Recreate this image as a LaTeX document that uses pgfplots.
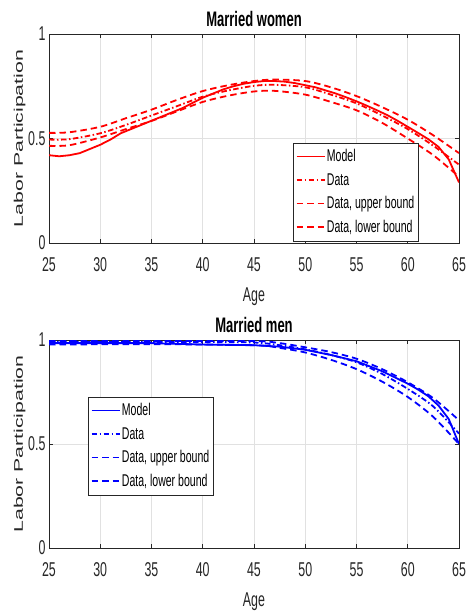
\documentclass[border=0pt]{standalone}
\usepackage{graphicx}
\usepackage{pgfplots}
\pgfplotsset{compat=1.18}
\usepackage{fontspec}
\setmainfont{Liberation Sans}[FakeStretch=0.62]
\newfontfamily\ylabfont{Liberation Sans}[FakeStretch=1.7]
\newfontfamily\legfont{Liberation Sans}
\newcommand{\lgx}[1]{\scalebox{0.62}[1]{#1}}
\definecolor{axgray}{RGB}{38,38,38}
\definecolor{gridgray}{RGB}{225,225,225}
\tikzset{
  mdl/.style={line width=1.8bp, solid},
  dat/.style={line width=1.8bp, dash pattern=on 5.5bp off 2.5bp on 1.5bp off 2.5bp},
  bnd/.style={line width=1.8bp, dash pattern=on 6.5bp off 4bp},
}
\pgfplotsset{
  limg/.style 2 args={legend image code/.code={\draw[draw=#1, #2] (0bp,0bp) -- (28bp,0bp);}},
  mlstyle/.style={
    scale only axis, width=410bp,
    xmin=25, xmax=65, ymin=0, ymax=1,
    xtick={25,30,...,65}, ytick={0,0.5,1},
    /pgf/number format/assume math mode=true,
    tick align=inside, major tick length=4bp,
    axis line style={axgray, line width=0.8bp},
    tick style={axgray, line width=0.8bp},
    grid=major, major grid style={gridgray, line width=0.8bp},
    ticklabel style={font=\fontsize{20bp}{22bp}\selectfont, text=axgray},
    xticklabel style={yshift=-11bp},
    yticklabel style={xshift=0bp},
    title style={font=\fontsize{21bp}{23bp}\selectfont\bfseries, yshift=-2bp},
    xlabel={Age},
    xlabel style={font=\fontsize{20bp}{22bp}\selectfont, text=axgray, yshift=-9bp},
    ylabel={Labor Participation},
    ylabel style={font=\fontsize{12.5bp}{14bp}\selectfont\ylabfont, text=axgray, yshift=-4bp},
    legend cell align=left,
    legend style={draw=axgray, fill=white,
      font=\fontsize{17bp}{19bp}\selectfont\legfont,
      inner xsep=2.5bp, inner ysep=5bp, row sep=7bp,
      nodes={inner sep=1.5bp}},
  },
}
\begin{document}
\begin{tikzpicture}
\useasboundingbox (0,0) rectangle (468bp,-614bp);
% ---------------- Married women ----------------
\begin{axis}[mlstyle, height=209bp, at={(49bp,-243bp)}, anchor=south west,
  title={Married women},
  legend style={at={(0.595,0.01)}, anchor=south west}]
\addplot[red, mdl, limg={red}{mdl}] coordinates {
(25,0.420) (26,0.415) (27,0.420) (28,0.430) (29,0.450) (30,0.470) (31,0.495)
(32,0.525) (33,0.545) (34,0.565) (35,0.585) (36,0.605) (37,0.625) (38,0.645)
(39,0.670) (40,0.695) (41,0.715) (42,0.735) (43,0.750) (44,0.762) (45,0.770)
(46,0.775) (47,0.775) (48,0.772) (49,0.765) (50,0.755) (51,0.745) (52,0.730)
(53,0.715) (54,0.697) (55,0.678) (56,0.657) (57,0.635) (58,0.612) (59,0.585)
(60,0.556) (61,0.527) (62,0.497) (63,0.460) (64,0.400) (65,0.290)};
\addlegendentry{\lgx{Model}}
\addplot[red, dat, smooth, tension=0.5, limg={red}{dat}] coordinates {
(25,0.495) (27,0.497) (30,0.525) (32.5,0.565) (35,0.610) (37.5,0.655) (40,0.700)
(42.5,0.730) (45,0.752) (47,0.757) (50,0.745) (52.5,0.710) (55,0.668)
(57.5,0.610) (60,0.545) (62.5,0.465) (65,0.375)};
\addlegendentry{\lgx{Data}}
\addplot[red, bnd, smooth, tension=0.5, limg={red}{bnd}] coordinates {
(25,0.527) (27,0.530) (30,0.556) (32.5,0.597) (35,0.638) (37.5,0.685) (40,0.727)
(42.5,0.755) (45,0.775) (47,0.782) (50,0.775) (52.5,0.745) (55,0.703)
(57.5,0.650) (60,0.590) (62.5,0.515) (65,0.430)};
\addlegendentry{\lgx{Data, upper bound}}
\addplot[red, bnd, smooth, tension=0.5, limg={red}{bnd}] coordinates {
(25,0.465) (27,0.468) (30,0.505) (32.5,0.545) (35,0.584) (37.5,0.630) (40,0.675)
(42.5,0.705) (45,0.725) (47,0.728) (50,0.710) (52.5,0.675) (55,0.635)
(57.5,0.575) (60,0.500) (62.5,0.420) (65,0.317)};
\addlegendentry{\lgx{Data, lower bound}}
\end{axis}
% ---------------- Married men ----------------
\begin{axis}[mlstyle, height=208bp, at={(49bp,-548bp)}, anchor=south west,
  title={Married men},
  legend style={at={(0.095,0.255)}, anchor=south west}]
\addplot[blue, mdl, limg={blue}{mdl}] coordinates {
(25,0.985) (30,0.985) (35,0.985) (40,0.978) (45,0.975) (47.5,0.968) (50,0.953)
(52.5,0.928) (55,0.898) (57.5,0.850) (60,0.790) (61,0.762) (62,0.730) (63,0.685)
(64,0.620) (65,0.500)};
\addlegendentry{\lgx{Model}}
\addplot[blue, dat, smooth, tension=0.5, limg={blue}{dat}] coordinates {
(25,0.990) (30,0.990) (35,0.990) (40,0.990) (45,0.988) (47.5,0.975) (50,0.955)
(52.5,0.928) (55,0.893) (57.5,0.837) (60,0.765) (62.5,0.680) (65,0.550)};
\addlegendentry{\lgx{Data}}
\addplot[blue, bnd, smooth, tension=0.5, limg={blue}{bnd}] coordinates {
(25,0.995) (35,0.995) (45,0.995) (47.5,0.985) (50,0.965) (52.5,0.942) (55,0.910)
(57.5,0.860) (60,0.797) (62.5,0.720) (65,0.614)};
\addlegendentry{\lgx{Data, upper bound}}
\addplot[blue, bnd, smooth, tension=0.5, limg={blue}{bnd}] coordinates {
(25,0.978) (35,0.980) (45,0.975) (47.5,0.962) (50,0.940) (52.5,0.905) (55,0.860)
(57.5,0.800) (60,0.726) (62.5,0.630) (65,0.500)};
\addlegendentry{\lgx{Data, lower bound}}
\end{axis}
\end{tikzpicture}
\end{document}
